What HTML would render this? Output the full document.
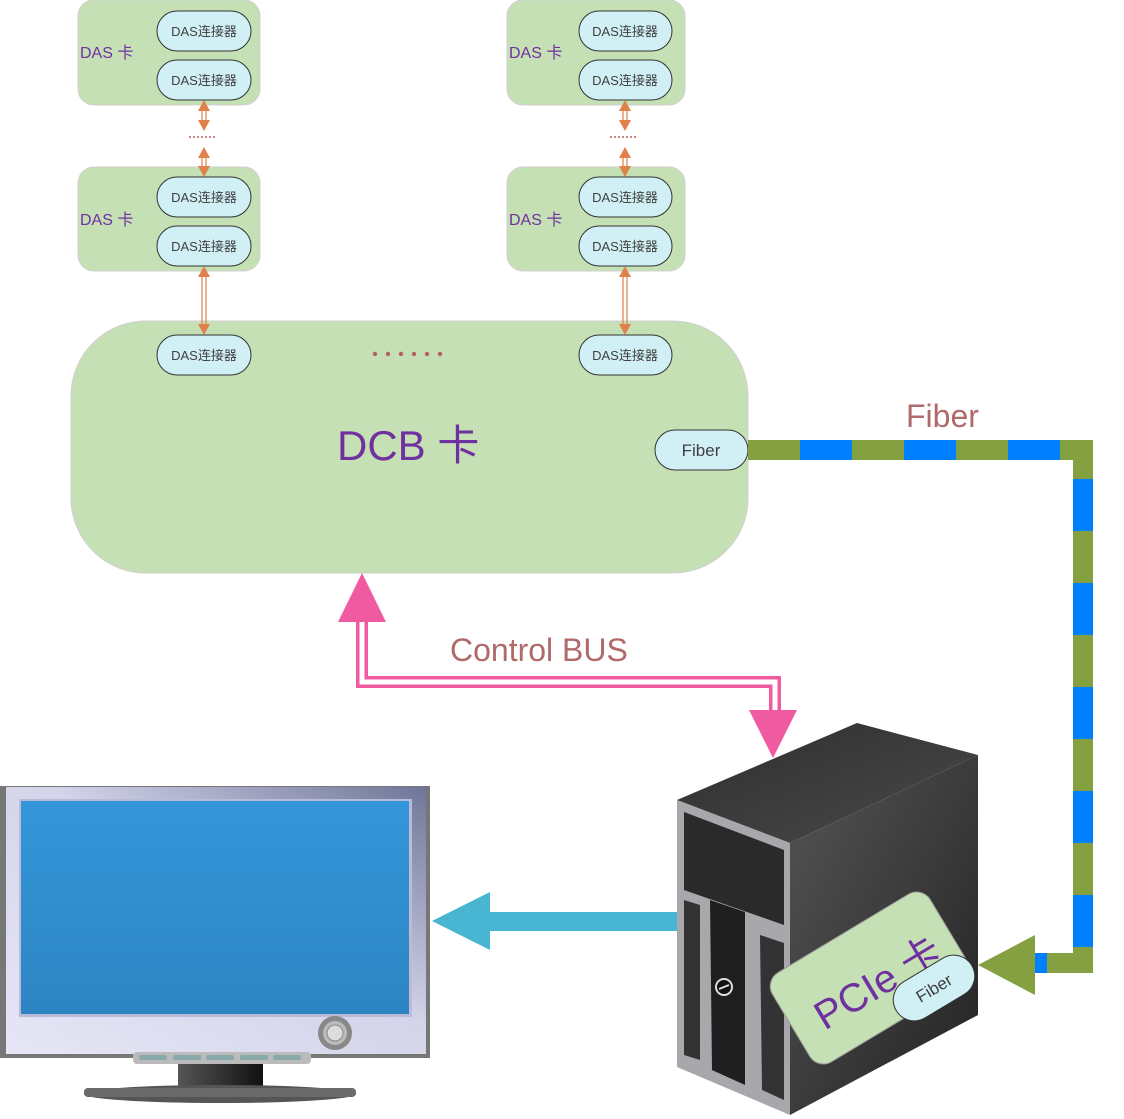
<!DOCTYPE html>
<html><head><meta charset="utf-8"><style>
html,body{margin:0;padding:0;background:#fff;}
svg{display:block;}
text{font-family:"Liberation Sans","Noto Sans CJK SC",sans-serif;}
</style></head><body>
<svg width="1124" height="1119" viewBox="0 0 1124 1119" xmlns="http://www.w3.org/2000/svg">
<defs>
<linearGradient id="bez" x1="0" y1="1" x2="1" y2="0">
<stop offset="0" stop-color="#e6e6f6"/><stop offset="0.55" stop-color="#d4d4ea"/><stop offset="1" stop-color="#6e7698"/></linearGradient>
<linearGradient id="scr" x1="0" y1="0" x2="0" y2="1">
<stop offset="0" stop-color="#3497da"/><stop offset="1" stop-color="#2d84c2"/></linearGradient>
<linearGradient id="top" x1="0" y1="0" x2="1" y2="1">
<stop offset="0" stop-color="#2e2e2e"/><stop offset="1" stop-color="#4a4a4a"/></linearGradient>
<linearGradient id="side" x1="0" y1="0" x2="1" y2="1">
<stop offset="0" stop-color="#555"/><stop offset="1" stop-color="#222"/></linearGradient>
<linearGradient id="neck" x1="0" y1="0" x2="1" y2="0">
<stop offset="0" stop-color="#555"/><stop offset="1" stop-color="#111"/></linearGradient>
</defs>

<g>
<rect x="78" y="0" width="182" height="105" rx="16" fill="#c5e0b4" stroke="#d0d0d0"/>
<rect x="78" y="167" width="182" height="104" rx="16" fill="#c5e0b4" stroke="#d0d0d0"/>
<rect x="507" y="0" width="178" height="105" rx="16" fill="#c5e0b4" stroke="#d0d0d0"/>
<rect x="507" y="167" width="178" height="104" rx="16" fill="#c5e0b4" stroke="#d0d0d0"/>
<g font-size="16" fill="#7030a0">
<text x="80" y="58">DAS 卡</text><text x="80" y="225">DAS 卡</text>
<text x="509" y="58">DAS 卡</text><text x="509" y="225">DAS 卡</text>
</g>
</g>

<rect x="71" y="321" width="677" height="252" rx="75" fill="#c5e0b4" stroke="#d0d0d0"/>
<text x="337" y="460" font-size="42" fill="#7030a0">DCB 卡</text>
<g fill="#b46060"><circle cx="375" cy="354" r="2.2"/><circle cx="388" cy="354" r="2.2"/><circle cx="401" cy="354" r="2.2"/><circle cx="414" cy="354" r="2.2"/><circle cx="427" cy="354" r="2.2"/><circle cx="440" cy="354" r="2.2"/></g>

<g fill="#d0f0f6" stroke="#333" stroke-width="1">
<rect x="157" y="11" width="94" height="40" rx="20"/><rect x="157" y="60" width="94" height="40" rx="20"/>
<rect x="157" y="177" width="94" height="40" rx="20"/><rect x="157" y="226" width="94" height="40" rx="20"/>
<rect x="579" y="11" width="93" height="40" rx="20"/><rect x="579" y="60" width="93" height="40" rx="20"/>
<rect x="579" y="177" width="93" height="40" rx="20"/><rect x="579" y="226" width="93" height="40" rx="20"/>
<rect x="157" y="335" width="94" height="40" rx="20"/><rect x="579" y="335" width="93" height="40" rx="20"/>
<rect x="655" y="430" width="93" height="40" rx="20"/>
</g>
<g font-size="13" fill="#404040" text-anchor="middle">
<text x="204" y="36">DAS连接器</text><text x="204" y="85">DAS连接器</text>
<text x="204" y="202">DAS连接器</text><text x="204" y="251">DAS连接器</text>
<text x="625" y="36">DAS连接器</text><text x="625" y="85">DAS连接器</text>
<text x="625" y="202">DAS连接器</text><text x="625" y="251">DAS连接器</text>
<text x="204" y="360">DAS连接器</text><text x="625" y="360">DAS连接器</text>
</g>
<text x="701" y="456" font-size="17" fill="#404040" text-anchor="middle">Fiber</text>

<g stroke="#e0804a" stroke-width="1.2" fill="#e0804a">
<g id="oa">
<line x1="202" y1="110" x2="202" y2="122"/><line x1="206" y1="110" x2="206" y2="122"/>
<polygon points="204,100 198,111 210,111" stroke="none"/><polygon points="204,131 198,120 210,120" stroke="none"/>
<line x1="202" y1="157" x2="202" y2="168"/><line x1="206" y1="157" x2="206" y2="168"/>
<polygon points="204,147 198,158 210,158" stroke="none"/><polygon points="204,177 198,166 210,166" stroke="none"/>
<line x1="202" y1="276" x2="202" y2="326"/><line x1="206" y1="276" x2="206" y2="326"/>
<polygon points="204,266 198,277 210,277" stroke="none"/><polygon points="204,335 198,324 210,324" stroke="none"/>
</g>
<use href="#oa" transform="translate(421,0)"/>
</g>
<g fill="#b46060"><circle cx="190" cy="137" r="1"/><circle cx="194" cy="137" r="1"/><circle cx="198" cy="137" r="1"/><circle cx="202" cy="137" r="1"/><circle cx="206" cy="137" r="1"/><circle cx="210" cy="137" r="1"/><circle cx="214" cy="137" r="1"/>
<circle cx="611" cy="137" r="1"/><circle cx="615" cy="137" r="1"/><circle cx="619" cy="137" r="1"/><circle cx="623" cy="137" r="1"/><circle cx="627" cy="137" r="1"/><circle cx="631" cy="137" r="1"/><circle cx="635" cy="137" r="1"/></g>

<text x="906" y="427" font-size="32" fill="#b06a6a">Fiber</text>
<path d="M748,450 H1083 V963 H1035" fill="none" stroke="#84a040" stroke-width="20" stroke-linejoin="miter"/>
<path d="M748,450 H1083 V963 H1035" fill="none" stroke="#0080ff" stroke-width="20" stroke-dasharray="52 52" stroke-dashoffset="-52" stroke-linejoin="miter"/>
<polygon points="978,965 1035,935 1035,995" fill="#84a040"/>

<text x="450" y="661" font-size="32" fill="#b06a6a">Control BUS</text>
<path d="M362,615 V682 H775 V715" fill="none" stroke="#f05aa0" stroke-width="12"/>
<path d="M362,615 V682 H775 V715" fill="none" stroke="#fff" stroke-width="5"/>
<polygon points="362,573 338,622 386,622" fill="#f05aa0"/>
<polygon points="773,758 749,710 797,710" fill="#f05aa0"/>

<rect x="488" y="912" width="190" height="19" fill="#48b6d2"/>
<polygon points="432,921 490,892 490,950" fill="#48b6d2"/>

<rect x="0" y="786" width="430" height="272" fill="#777"/>
<rect x="6" y="787" width="420" height="267" fill="url(#bez)"/>
<rect x="19" y="799" width="393" height="218" fill="#b8bcd8"/>
<rect x="21" y="801" width="388" height="213" fill="url(#scr)"/>
<circle cx="335" cy="1033" r="17" fill="#888"/><circle cx="335" cy="1033" r="12" fill="#bbb"/><circle cx="335" cy="1033" r="8" fill="#ddd" stroke="#888"/>
<rect x="133" y="1052" width="178" height="12" rx="4" fill="#bbb"/>
<g fill="#8aa" ><rect x="139" y="1055" width="28" height="5" rx="2"/><rect x="173" y="1055" width="28" height="5" rx="2"/><rect x="206" y="1055" width="28" height="5" rx="2"/><rect x="240" y="1055" width="28" height="5" rx="2"/><rect x="273" y="1055" width="28" height="5" rx="2"/></g>
<rect x="178" y="1064" width="85" height="28" fill="url(#neck)"/>
<ellipse cx="220" cy="1094" rx="136" ry="9" fill="#555"/>
<rect x="84" y="1088" width="272" height="9" rx="4" fill="#6a6a6a"/>

<polygon points="677,800 857,723 978,755 790,843" fill="url(#top)"/>
<polygon points="790,843 978,755 978,1015 790,1115" fill="url(#side)"/>
<polygon points="677,800 790,843 790,1115 677,1067" fill="#a8a8ac"/>
<polygon points="684,812 784,850 784,925 684,890" fill="#2a2a2a"/>
<polygon points="684,900 700,905 700,1060 684,1055" fill="#333"/>
<polygon points="710,900 745,912 745,1085 712,1070" fill="#1f1f1f"/>
<polygon points="760,935 784,943 784,1100 762,1090" fill="#333"/>
<circle cx="724" cy="987" r="8" fill="#111" stroke="#ddd" stroke-width="2"/>
<line x1="719" y1="989" x2="729" y2="985" stroke="#ddd" stroke-width="2"/>

<g transform="translate(870,978) rotate(-31)">
<rect x="-92" y="-52" width="184" height="104" rx="16" fill="#c5e0b4" stroke="#999"/>
<text x="-66" y="22" font-size="40" fill="#7030a0">PCIe 卡</text>
</g>
<g transform="translate(934,988) rotate(-31)">
<rect x="-44" y="-21" width="88" height="42" rx="21" fill="#d0f0f6" stroke="#333"/>
<text x="0" y="6" font-size="17" fill="#404040" text-anchor="middle">Fiber</text>
</g>
</svg>
</body></html>
